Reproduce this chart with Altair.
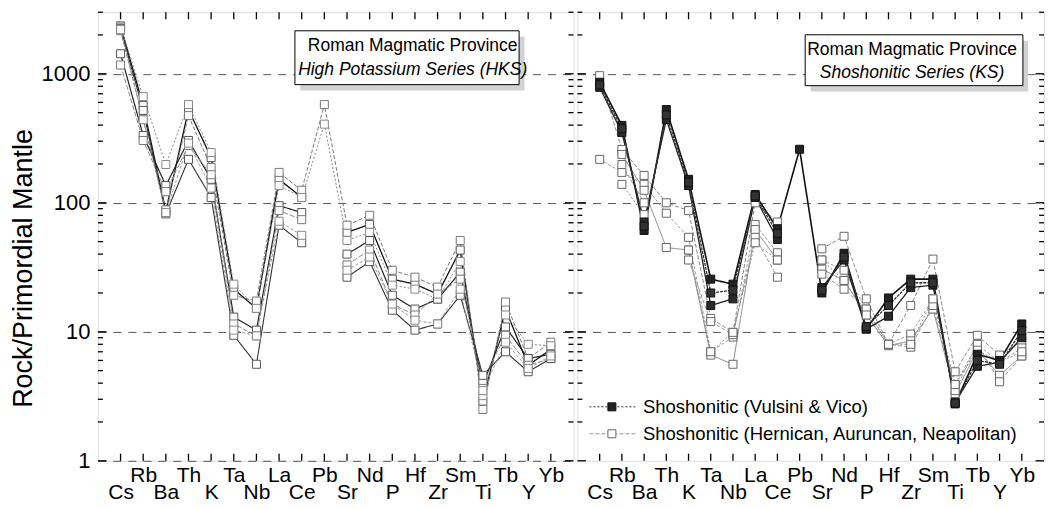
import altair as alt
import pandas as pd

elements = ["Cs", "Rb", "Ba", "Th", "K", "Ta", "Nb", "La", "Ce", "Pb",
            "Sr", "Nd", "P", "Hf", "Zr", "Sm", "Ti", "Tb", "Y", "Yb"]

# Left panel: High Potassium Series (HKS) - open squares
hks_1 = [2350, 567, 86, 528, 224, 21.4, 15.2, 152, 110, None, 59, 68, 25.6, 23.4, 19.6, 43, 2.9, 15, 5.5, 7.3]
hks_2 = [2160, 442, 88, 474, 188, 19.2, 17.3, 172, 125, 577, 67, 80, 30, 26.5, 22.2, 51, 2.5, 17, 6.2, 8.3]
hks_3 = [2300, 665, 198, 577, 245, 23.4, 15.2, 136, 110, 407, 51, 59, 23, 21.4, 17.9, 35, 3.2, 13.5, 8.0, 7.8]
hks_4 = [1430, 332, 136, 304, 152, 13.0, 10.3, 95, 84, None, 40, 51, 19.2, 15, 17.9, 29, 3.9, 10.9, 6.2, 6.7]
hks_5 = [1170, 304, 122, 278, 165, 11.5, 9.3, 87, 74, None, 33, 43, 16.4, 13.5, 19.6, 25.6, 4.2, 9.4, 5.5, 6.2]
hks_6 = [2250, 520, 82, 217, 110, 9.4, 5.6, 67, 49, None, 26.5, 35, 14.7, 10.3, 11.5, 19.2, 4.6, 7.0, 4.9, 6.2]
hks_7 = [2200, 440, 84, 290, 130, 10.3, 9.3, 72, 56, None, 30, 38, 16.4, 12.3, 11.5, 21.4, 3.5, 8.3, 5.2, 6.5]

# Right panel: Shoshonitic Series (KS)
# Vulsini & Vico (filled squares)
ks_vv_1 = [860, 398, 61, 528, 152, 25.6, 23.4, 116, 63, 260, 20, 40.6, 10.5, 18.3, 25.6, 25.6, 2.76, 6.7, 6.0, 11.5]
ks_vv_2 = [785, 350, 71, 442, 136, 16, 18, 110, 52, None, 22, 36, 10.5, 13.2, 22, 23, 2.85, 5.4, 5.8, 9.0]
ks_vv_3 = [820, 375, 66, 480, 144, 20, 21, 113, 58, None, 21, 38, 11, 16, 24, 24, 2.8, 6.0, 5.6, 10.2]
# Hernican, Auruncan, Neapolitan (open squares)
ks_han_1 = [967, 259, 163, 100, 87, 12.7, 9.9, 100, 71, None, 44, 55, 18, 8.0, 16, 36.6, 4.9, 9.4, 6.6, 8.5]
ks_han_2 = [217, 172, 139, 83, 54, 7.0, 9.1, 68, 41, None, 36, 30, 15, 8.0, 9.6, 18, 3.9, 8.0, 5.8, 7.5]
ks_han_3 = [None, 237, 125, 45, 43, 6.6, 5.6, 62, 36, None, 30.6, 25, 13.5, 7.8, 8.5, 15, 3.3, 7.2, 4.6, 6.5]
ks_han_4 = [None, 198, 100, None, 36, 12.0, 9.5, 54, 26.5, None, 28, 21.4, 15, 8.0, 7.6, 16, 3.5, 8.0, 4.1, 6.5]
ks_han_5 = [None, 139, 81, None, 43, 7.0, 9.9, 49, 36, None, 36, 25, 13.5, 8.0, 8.0, 18, 3.9, 7.2, 5.8, 7.0]

legend_labels = ["Shoshonitic (Vulsini & Vico)",
                 "Shoshonitic (Hernican, Auruncan, Neapolitan)"]
box_left = ["Roman Magmatic Province", "High Potassium Series (HKS)"]
box_right = ["Roman Magmatic Province", "Shoshonitic Series (KS)"]

FONT = "Liberation Sans"
H = 449
W_L = 476
W_R = 467
YDOM = [1, 3000]
XDOM = [0, 21]


def long_df(name, vals):
    rows = []
    seg = 0
    for i, v in enumerate(vals):
        if v is None:
            seg += 1
            continue
        rows.append(dict(series=name, idx=i + 1, element=elements[i],
                         value=v, seg=f"{name}_{seg}"))
    return pd.DataFrame(rows)


# (name, values, line colour, dash, width, square fill, square stroke)
left_series = [
    ("h1", hks_1, "#111", [1, 0], 1.3, "white", "#555"),
    ("h2", hks_2, "#777", [4, 2], 1.0, "white", "#777"),
    ("h3", hks_3, "#888", [2, 2], 1.0, "white", "#888"),
    ("h4", hks_4, "#222", [1, 0], 1.2, "white", "#555"),
    ("h5", hks_5, "#888", [5, 2], 1.0, "white", "#777"),
    ("h6", hks_6, "#333", [1, 0], 1.1, "white", "#555"),
    ("h7", hks_7, "#999", [3, 2], 1.0, "white", "#888"),
]
right_series = [
    ("o1", ks_han_1, "#888", [4, 2], 1.0, "white", "#666"),
    ("o2", ks_han_2, "#999", [3, 2], 1.0, "white", "#666"),
    ("o3", ks_han_3, "#777", [1, 0], 0.9, "white", "#666"),
    ("o4", ks_han_4, "#999", [4, 2], 1.0, "white", "#666"),
    ("o5", ks_han_5, "#888", [2, 2], 1.0, "white", "#666"),
    ("f1", ks_vv_1, "#111", [1, 0], 1.6, "#222", "#111"),
    ("f2", ks_vv_2, "#222", [1, 0], 1.3, "#2a2a2a", "#111"),
    ("f3", ks_vv_3, "#333", [3, 1], 1.3, "#333", "#111"),
]

label_arr = "[" + ",".join(f"'{e}'" for e in elements) + "]"


def x_enc(field):
    return alt.X(field, type="quantitative",
                 scale=alt.Scale(domain=XDOM, nice=False, zero=False),
                 axis=alt.Axis(values=list(range(1, 21)),
                               labelExpr=f"{label_arr}[datum.value - 1]",
                               ticks=False, domain=False, grid=False, title=None,
                               labelFontSize=21, labelFont=FONT, labelColor="black",
                               labelPadding={"condition": {"test": "datum.value % 2 == 1", "value": 21}, "value": 4},
                               labelFlush=False, labelOverlap=False, labelBound=False))


def y_enc(field, left):
    if left:
        ax = alt.Axis(values=[1, 10, 100, 1000], format="d", ticks=False,
                      domain=False, grid=True, gridDash=[8, 7], gridColor="#555",
                      gridWidth=1, labelFontSize=22, labelFont=FONT,
                      labelColor="black", labelPadding=8,
                      title="Rock/Primordial Mantle", titleFontSize=27,
                      titleFont=FONT, titleFontWeight="normal",
                      titleColor="black", titlePadding=4, titleY=256)
    else:
        ax = alt.Axis(values=[10, 100, 1000], labels=False, ticks=False,
                      domain=False, grid=True, gridDash=[8, 7], gridColor="#555",
                      gridWidth=1, title=None)
    return alt.Y(field, type="quantitative",
                 scale=alt.Scale(type="log", domain=YDOM, nice=False), axis=ax)


# tick data
xt = pd.DataFrame({"tx": list(range(1, 21))})
bottom_ticks = xt.assign(ty=1.0, ty2=1.135)
top_ticks = xt.assign(ty=3000.0, ty2=3000 / 1.135)
xticks_df = pd.concat([bottom_ticks, top_ticks])

majors = [1, 10, 100, 1000]
minors = [m * d for d in [1, 10, 100] for m in range(2, 10)] + [2000, 3000]
yrows = []
for v in majors + minors:
    L = 0.38 if v in majors else 0.22
    yrows.append(dict(tv=v, tx=0, tx2=L))
    yrows.append(dict(tv=v, tx=21 - L, tx2=21))
yticks_df = pd.DataFrame(yrows)


def tick_layers(left):
    xr = alt.Chart(xticks_df).mark_rule(color="black", strokeWidth=1.3).encode(
        x=x_enc("tx"), y=y_enc("ty", left), y2="ty2")
    yr = alt.Chart(yticks_df).mark_rule(color="black", strokeWidth=1.3).encode(
        x=x_enc("tx"), x2="tx2", y=y_enc("tv", left))
    return [xr, yr]


def box_layers(x1, x2, y1, y2, tx, ty1, ty2, lines, left, fs):
    dx = 0.24
    fy = 1.11
    shadow = pd.DataFrame([dict(bx=x1 + dx, bx2=x2 + dx, by=y1 / fy, by2=y2 / fy)])
    box = pd.DataFrame([dict(bx=x1, bx2=x2, by=y1, by2=y2)])
    s = alt.Chart(shadow).mark_rect(fill="#d2d2d2").encode(
        x=x_enc("bx"), x2="bx2", y=y_enc("by", left), y2="by2")
    b = alt.Chart(box).mark_rect(fill="white", stroke="black", strokeWidth=1).encode(
        x=x_enc("bx"), x2="bx2", y=y_enc("by", left), y2="by2")
    t1 = alt.Chart(pd.DataFrame([dict(px=tx, py=ty1, t=lines[0])])).mark_text(
        font=FONT, fontSize=fs, color="black", align="center", baseline="middle").encode(
        x=x_enc("px"), y=y_enc("py", left), text="t:N")
    t2 = alt.Chart(pd.DataFrame([dict(px=tx, py=ty2, t=lines[1])])).mark_text(
        font=FONT, fontSize=fs, color="black", align="center", baseline="middle",
        fontStyle="italic").encode(
        x=x_enc("px"), y=y_enc("py", left), text="t:N")
    return [s, b, t1, t2]


def data_layers(series, left):
    line_layers = []
    pt_layers = []
    for name, vals, col, dash, wid, fill, stroke in series:
        df = long_df(name, vals)
        line_layers.append(
            alt.Chart(df).mark_line(clip=True, color=col, strokeDash=dash, strokeWidth=wid).encode(
                x=x_enc("idx"), y=y_enc("value", left), detail="seg:N", order="idx:Q"))
        pt_layers.append(
            alt.Chart(df).mark_point(shape="square", size=64, filled=True, fill=fill,
                                     stroke=stroke, strokeWidth=1, opacity=1,
                                     fillOpacity=1, clip=True).encode(
                x=x_enc("idx"), y=y_enc("value", left)))
    return line_layers + pt_layers


left_layers = (data_layers(left_series, True)
               + box_layers(8.7, 18.6, 2154, 824, 13.9, 1650, 1076, box_left, True, 17.5)
               + tick_layers(True))
left = alt.layer(*left_layers).properties(width=W_L, height=H)

# custom legend in right panel
leg_y = [2.62, 1.62]
legend_layers = []
for ly, lab, lcol, dash, fill, stroke in [
        (leg_y[0], legend_labels[0], "#333", [2, 2], "#222", "#111"),
        (leg_y[1], legend_labels[1], "#999", [4, 2], "white", "#666")]:
    legend_layers.append(
        alt.Chart(pd.DataFrame([dict(lx=0.54, lx2=2.70, ly=ly)])).mark_rule(
            color=lcol, strokeDash=dash, strokeWidth=1).encode(
            x=x_enc("lx"), x2="lx2", y=y_enc("ly", False)))
    legend_layers.append(
        alt.Chart(pd.DataFrame([dict(lx=1.55, ly=ly)])).mark_point(
            shape="square", size=64, filled=True, fill=fill, stroke=stroke,
            strokeWidth=1, opacity=1, fillOpacity=1).encode(
            x=x_enc("lx"), y=y_enc("ly", False)))
    legend_layers.append(
        alt.Chart(pd.DataFrame([dict(lx=2.95, ly=ly, t=lab)])).mark_text(
            font=FONT, fontSize=18.5, color="black", align="left", baseline="middle").encode(
            x=x_enc("lx"), y=y_enc("ly", False), text="t:N"))

right_layers = (data_layers(right_series, False)
                + box_layers(10.25, 20.05, 2006, 809, 15.06, 1536, 1019, box_right, False, 17.5)
                + legend_layers
                + tick_layers(False))
right = alt.layer(*right_layers).properties(width=W_R, height=H)

chart = alt.hconcat(left, right, spacing=0).properties(
    padding={"left": 8, "top": 10, "right": 5, "bottom": 2}
).configure_view(stroke="black", strokeWidth=2).configure(font=FONT, background="white")

chart.save("out.html", embed_options={"renderer": "svg", "actions": False})
